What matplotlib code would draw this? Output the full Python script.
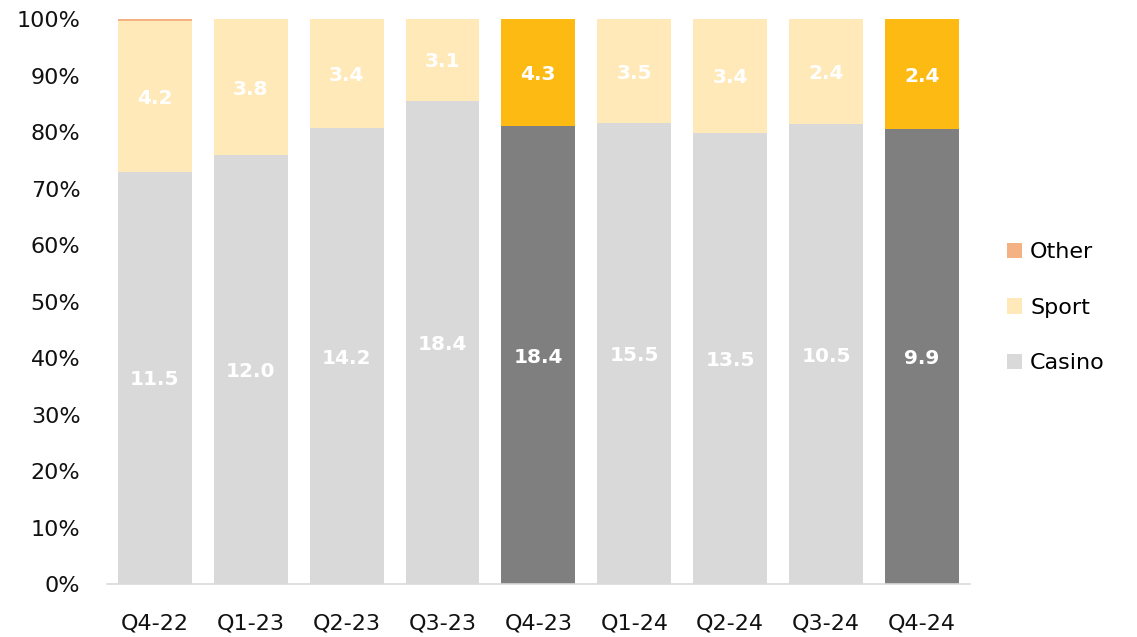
import matplotlib.pyplot as plt
from matplotlib.ticker import PercentFormatter
import numpy as np

plt.rcParams['font.family'] = ['DejaVu Sans']

quarters = ['Q4-22', 'Q1-23', 'Q2-23', 'Q3-23', 'Q4-23', 'Q1-24', 'Q2-24', 'Q3-24', 'Q4-24']
casino = [11.5, 12.0, 14.2, 18.4, 18.4, 15.5, 13.5, 10.5, 9.9]
sport = [4.2, 3.8, 3.4, 3.1, 4.3, 3.5, 3.4, 2.4, 2.4]
other = [0.05, 0, 0, 0, 0, 0, 0, 0, 0]
highlight = ['Q4-23', 'Q4-24']

casino_col = ['#7F7F7F' if q in highlight else '#D9D9D9' for q in quarters]
sport_col = ['#FDBA13' if q in highlight else '#FFE9B8' for q in quarters]

c = np.array(casino)
s = np.array(sport)
o = np.array(other)
tot = c + s + o
c_pct = c / tot * 100
s_pct = s / tot * 100
o_pct = o / tot * 100

fig = plt.figure(figsize=(11.37, 6.37), dpi=100)
ax = fig.add_axes([0.094, 0.083, 0.759, 0.887])
x = np.arange(len(quarters))
w = 0.77

ax.bar(x, c_pct, w, color=casino_col, label='Casino')
ax.bar(x, s_pct, w, bottom=c_pct, color=sport_col, label='Sport')
ax.bar(x, o_pct, w, bottom=c_pct + s_pct, color='#F4B183', label='Other')

# value labels in the middle of each segment
for i in range(len(quarters)):
    ax.text(x[i], c_pct[i] / 2, f'{casino[i]:.1f}', ha='center', va='center_baseline',
            color='white', fontsize=14.5, fontweight='bold')
    ax.text(x[i], c_pct[i] + s_pct[i] / 2, f'{sport[i]:.1f}', ha='center', va='center_baseline',
            color='white', fontsize=14.5, fontweight='bold')

ax.set_xlim(-0.5, len(quarters) - 0.5)
ax.set_ylim(0, 100)
ax.set_yticks(np.arange(0, 101, 10))
ax.yaxis.set_major_formatter(PercentFormatter(decimals=0))
ax.set_xticks(x)
ax.set_xticklabels(quarters)
ax.tick_params(axis='y', length=0, pad=19, labelsize=16, colors='#111111')
ax.tick_params(axis='x', length=0, pad=21, labelsize=16, colors='#111111')
for sp in ['left', 'right', 'top']:
    ax.spines[sp].set_visible(False)
ax.spines['bottom'].set_color('#D9D9D9')
ax.spines['bottom'].set_linewidth(1.2)

handles, labels = ax.get_legend_handles_labels()
fig.legend(handles[::-1], labels[::-1], loc='center left', bbox_to_anchor=(0.868, 0.517),
           frameon=False, fontsize=16, handlelength=0.7, handleheight=0.7,
           handletextpad=0.35, labelspacing=1.6)

fig.savefig('out.png', dpi=100)
